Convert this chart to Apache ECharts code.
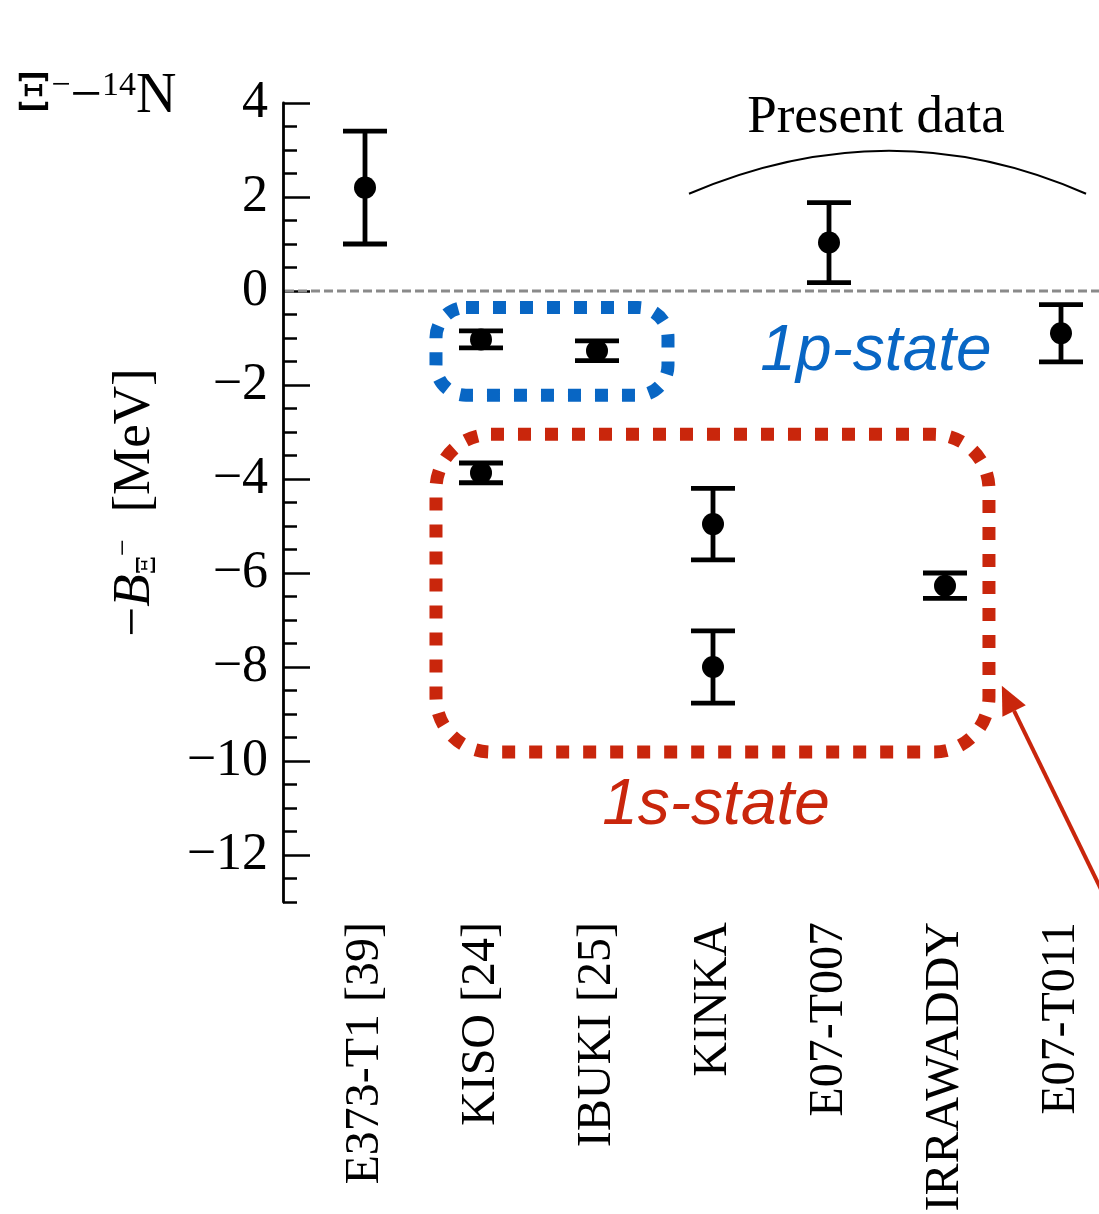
<!DOCTYPE html>
<html>
<head>
<meta charset="utf-8">
<script src="https://cdn.jsdelivr.net/npm/echarts@6/dist/echarts.min.js"></script>
<style>
  html, body { margin: 0; padding: 0; background: #fff; }
  #main { width: 1099px; height: 1214px; }
</style>
</head>
<body>
<div id="main"></div>
<script>
// data
var categories = ['E373-T1 [39]', 'KISO [24]', 'IBUKI [25]', 'KINKA', 'E07-T007', 'IRRAWADDY', 'E07-T011'];
var pointCat = [0, 1, 1, 2, 3, 3, 4, 5, 6];
var pointVal = [2.2, -1.03, -3.87, -1.27, -4.96, -8.0, 1.03, -6.27, -0.9];
var pointErr = [1.2, 0.18, 0.21, 0.21, 0.76, 0.77, 0.85, 0.27, 0.61];
var yMajorTicks = [-12, -10, -8, -6, -4, -2, 0, 2, 4];

var GRID_LEFT = 307;
var Y_OFFSET = 24;
var SERIF = 'Liberation Serif';
var BLUE = '#0866c4';
var RED = '#c9260c';

var chart = echarts.init(document.getElementById('main'));

var errData = pointCat.map(function (c, i) {
  return [c, pointVal[i] - pointErr[i], pointVal[i] + pointErr[i]];
});
var ptData = pointCat.map(function (c, i) { return [c, pointVal[i]]; });

function renderErr(params, api) {
  var x = api.value(0);
  var lo = api.coord([x, api.value(1)]);
  var hi = api.coord([x, api.value(2)]);
  var hw = 22;
  var st = { stroke: '#000', lineWidth: 4.8 };
  return {
    type: 'group',
    children: [
      { type: 'line', shape: { x1: lo[0], y1: lo[1], x2: hi[0], y2: hi[1] }, style: st },
      { type: 'line', shape: { x1: lo[0] - hw, y1: lo[1], x2: lo[0] + hw, y2: lo[1] }, style: st },
      { type: 'line', shape: { x1: hi[0] - hw, y1: hi[1], x2: hi[0] + hw, y2: hi[1] }, style: st }
    ]
  };
}

var option = {
  backgroundColor: '#fff',
  animation: false,
  grid: { left: GRID_LEFT, width: 812, top: 103, height: 799, outerBoundsMode: 'none', containLabel: false },
  xAxis: {
    type: 'category',
    data: categories,
    axisLine: { show: false, onZero: false },
    axisTick: { show: false },
    splitLine: { show: false },
    axisLabel: { interval: 0, rotate: 90, margin: 20, fontFamily: SERIF, fontSize: 48, color: '#000' }
  },
  yAxis: [
    {
      type: 'value', min: -13, max: 4, interval: 0.5, offset: Y_OFFSET,
      axisLine: { show: true, lineStyle: { color: '#000', width: 2.8 } },
      axisTick: { show: true, inside: true, length: 14, lineStyle: { color: '#000', width: 2.5 } },
      axisLabel: { show: false },
      splitLine: { show: false },
      name: '{m|−}{b|B}{sub|Ξ}{sup|−}{m|  [MeV]}',
      nameLocation: 'middle',
      nameRotate: 90,
      nameGap: 122,
      nameTextStyle: {
        rich: {
          m: { fontFamily: SERIF, fontSize: 53, lineHeight: 52, color: '#000' },
          b: { fontFamily: SERIF, fontSize: 53, lineHeight: 52, fontStyle: 'italic', color: '#000' },
          sub: { fontFamily: 'DejaVu Serif', fontSize: 26, lineHeight: 28, verticalAlign: 'bottom', color: '#000' },
          sup: { fontFamily: SERIF, fontSize: 30, lineHeight: 22, verticalAlign: 'top', color: '#000' }
        }
      }
    },
    {
      type: 'value', min: -13, max: 4, offset: Y_OFFSET, position: 'left',
      axisLine: { show: false },
      axisTick: { show: true, inside: true, length: 27, customValues: yMajorTicks, lineStyle: { color: '#000', width: 2.5 } },
      axisLabel: {
        customValues: yMajorTicks, margin: 15, fontFamily: SERIF, fontSize: 52, color: '#000',
        formatter: function (v) { return String(v).replace('-', '−'); }
      },
      splitLine: { show: false }
    }
  ],
  series: [
    { type: 'custom', renderItem: renderErr, data: errData, encode: { x: 0, y: [1, 2] }, z: 3, clip: false },
    { type: 'scatter', data: ptData, symbolSize: 22, itemStyle: { color: '#000', opacity: 1 }, z: 4 }
  ]
};
chart.setOption(option);

// annotations placed in data units
function toPx(c, v) {
  var a = chart.convertToPixel({ seriesIndex: 1 }, [0, v]);
  var b = chart.convertToPixel({ seriesIndex: 1 }, [1, v]);
  return [a[0] + c * (b[0] - a[0]), a[1]];
}
function boxEl(c0, c1, v0, v1, r, color) {
  var p0 = toPx(c0, v0), p1 = toPx(c1, v1);
  return {
    type: 'rect',
    shape: { x: p0[0], y: p0[1], width: p1[0] - p0[0], height: p1[1] - p0[1], r: r },
    style: { fill: 'none', stroke: color, lineWidth: 13, lineDash: [13, 14] },
    z: 1
  };
}

var zeroY = toPx(0, 0)[1];
var tip = toPx(5.49, -8.40), tail = toPx(6.42, -13.11);
var dx = tip[0] - tail[0], dy = tip[1] - tail[1], len = Math.sqrt(dx * dx + dy * dy);
var ux = dx / len, uy = dy / len;
var hl = 28, hw = 13;
var base = [tip[0] - ux * hl, tip[1] - uy * hl];
var arcA = toPx(2.793, 2.07), arcB = toPx(6.216, 2.07), arcC = toPx(4.53, 3.9);
var presentPos = toPx(4.405, 3.67);
var p1Pos = toPx(4.405, -1.30);
var s1Pos = toPx(3.026, -10.96);

chart.setOption({
  graphic: [
    {
      type: 'line',
      shape: { x1: GRID_LEFT - Y_OFFSET + 2, y1: zeroY, x2: 1110, y2: zeroY },
      style: { stroke: '#8a8a8a', lineWidth: 3, lineDash: [9, 4] },
      z: 1
    },
    boxEl(0.612, 2.612, -0.35, -2.22, 30, BLUE),
    boxEl(0.612, 5.379, -3.05, -9.81, 55, RED),
    {
      type: 'line',
      shape: { x1: tail[0], y1: tail[1], x2: base[0], y2: base[1] },
      style: { stroke: RED, lineWidth: 4 },
      z: 1
    },
    {
      type: 'polygon',
      shape: { points: [tip, [base[0] - uy * hw, base[1] + ux * hw], [base[0] + uy * hw, base[1] - ux * hw]] },
      style: { fill: RED },
      z: 1
    },
    {
      type: 'bezierCurve',
      shape: { x1: arcA[0], y1: arcA[1], x2: arcB[0], y2: arcB[1], cpx1: arcC[0], cpy1: arcC[1] },
      style: { stroke: '#000', lineWidth: 2, fill: 'none' },
      z: 1
    },
    {
      type: 'text', x: presentPos[0], y: presentPos[1],
      style: { text: 'Present data', fontFamily: SERIF, fontSize: 53, fill: '#000', align: 'center', verticalAlign: 'middle' }
    },
    {
      type: 'text', x: p1Pos[0], y: p1Pos[1],
      style: { text: '1p-state', fontFamily: 'Liberation Sans', fontStyle: 'italic', fontSize: 64, fill: BLUE, align: 'center', verticalAlign: 'middle' }
    },
    {
      type: 'text', x: s1Pos[0], y: s1Pos[1],
      style: { text: '1s-state', fontFamily: 'Liberation Sans', fontStyle: 'italic', fontSize: 64, fill: RED, align: 'center', verticalAlign: 'middle' }
    },
    {
      type: 'text', left: 16, top: 69,
      style: {
        text: '{x|Ξ}{s|−}{n|−}{s|14}{n|N}',
        rich: {
          x: { fontFamily: 'DejaVu Serif', fontSize: 50, lineHeight: 56, fill: '#000' },
          n: { fontFamily: SERIF, fontSize: 56, lineHeight: 56, fill: '#000' },
          s: { fontFamily: SERIF, fontSize: 34, lineHeight: 26, verticalAlign: 'top', fill: '#000' }
        }
      }
    }
  ]
});
</script>
</body>
</html>
